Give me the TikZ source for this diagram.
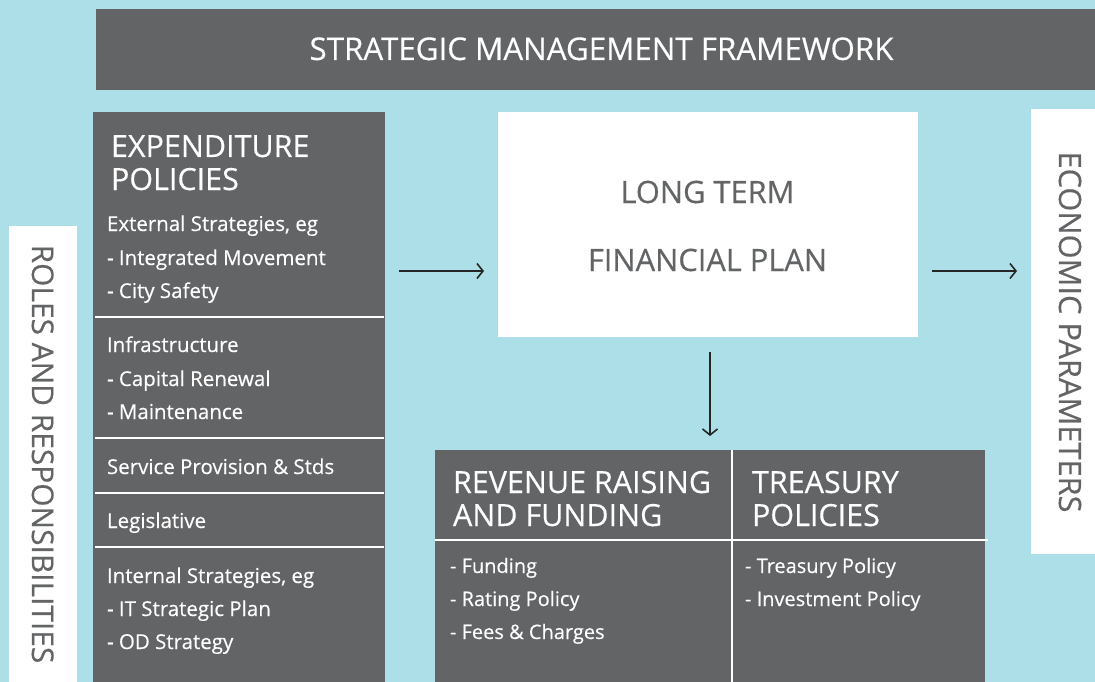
\documentclass[tikz,border=0pt]{standalone}
\usepackage{fontspec}
\setmainfont{Open Sans}[FakeBold=0.35]
\usetikzlibrary{arrows.meta}
\definecolor{bg}{RGB}{172, 223, 231}
\definecolor{panel}{RGB}{99, 100, 102}

\begin{document}
\begin{tikzpicture}[
  every node/.style={inner sep=0pt, outer sep=0pt},
  darkbox/.style={rectangle, fill=panel, anchor=north west},
  whitebox/.style={rectangle, fill=white, anchor=north west},
  heading/.style={anchor=base west, text=white, font=\fontsize{30.5}{32}\selectfont},
  item/.style={anchor=base west, text=white, font=\fontsize{20.5}{22}\selectfont},
  greytext/.style={anchor=base, text=panel, font=\fontsize{30.8}{32}\selectfont},
  rule/.style={white, line width=2pt},
  flow/.style={line width=1.6pt, color=black!85, -{Straight Barb[length=6pt, width=15pt, line width=1.6pt]}}
]
% canvas
\useasboundingbox (0pt, 0pt) rectangle (1095pt, -682pt);
\fill [bg] (0pt, 0pt) rectangle (1095pt, -682pt);

% boxes
\node (banner) [darkbox, minimum width=999pt, minimum height=81.5pt] at (96pt, -9pt) {};
\node (expend) [darkbox, minimum width=292pt, minimum height=570pt] at (93pt, -112pt) {};
\node (roles) [whitebox, minimum width=68pt, minimum height=456pt] at (9pt, -226pt) {};
\node (ltfp) [whitebox, minimum width=420pt, minimum height=225pt] at (498pt, -112pt) {};
\node (econ) [whitebox, minimum width=64pt, minimum height=445pt] at (1031pt, -109pt) {};
\node (revenue) [darkbox, minimum width=550pt, minimum height=232pt] at (435pt, -450pt) {};

% banner title
\node (bannertext) [anchor=base, text=white, font=\fontsize{31.3}{32}\selectfont] at (601.5pt, -60pt) {STRATEGIC MANAGEMENT FRAMEWORK};

% expenditure column
\node (exp1) [heading] at (111pt, -157pt) {EXPENDITURE};
\node (exp2) [heading] at (111pt, -190pt) {POLICIES};
\node (e1) [item] at (107pt, -231pt) {External Strategies, eg};
\node (e2) [item] at (107pt, -265pt) {- Integrated Movement};
\node (e3) [item] at (107pt, -298pt) {- City Safety};
\node (e4) [item] at (107pt, -352pt) {Infrastructure};
\node (e5) [item] at (107pt, -386pt) {- Capital Renewal};
\node (e6) [item] at (107pt, -419pt) {- Maintenance};
\node (e7) [item] at (107pt, -474pt) {Service Provision \& Stds};
\node (e8) [item] at (107pt, -528pt) {Legislative};
\node (e9) [item] at (107pt, -583pt) {Internal Strategies, eg};
\node (e10) [item] at (107pt, -616pt) {- IT Strategic Plan};
\node (e11) [item] at (107pt, -649pt) {- OD Strategy};
\foreach \y in {317, 438, 493, 547}
  \draw [rule] (95pt, -\y pt) -- (384pt, -\y pt);

% side labels
\node (rolestext) [greytext, rotate=-90, font=\fontsize{29.9}{32}\selectfont] at (32pt, -454pt) {ROLES AND RESPONSIBILITIES};
\node (econtext) [greytext, rotate=-90] at (1059pt, -332pt) {ECONOMIC PARAMETERS};

% long term plan
\node (lterm) [greytext] at (707.5pt, -203pt) {LONG TERM};
\node (fplan) [greytext] at (707.5pt, -271pt) {FINANCIAL PLAN};

% revenue and treasury
\draw [rule] (435pt, -540pt) -- (988pt, -540pt);
\draw [rule] (732pt, -450pt) -- (732pt, -682pt);
\node (rev1) [heading] at (453pt, -493pt) {REVENUE RAISING};
\node (rev2) [heading] at (453pt, -526pt) {AND FUNDING};
\node (tre1) [heading] at (752pt, -493pt) {TREASURY};
\node (tre2) [heading] at (752pt, -526pt) {POLICIES};
\node (r1) [item, font=\fontsize{20}{22}\selectfont] at (450pt, -573pt) {- Funding};
\node (r2) [item, font=\fontsize{20}{22}\selectfont] at (450pt, -606pt) {- Rating Policy};
\node (r3) [item, font=\fontsize{20}{22}\selectfont] at (450pt, -639pt) {- Fees \& Charges};
\node (t1) [item, font=\fontsize{20}{22}\selectfont] at (745pt, -573pt) {- Treasury Policy};
\node (t2) [item, font=\fontsize{20}{22}\selectfont] at (745pt, -606pt) {- Investment Policy};

% arrows
\draw [flow, shorten <=14pt, shorten >=14pt] (expend.east |- fplan.base) -- (ltfp.west |- fplan.base);
\draw [flow, shorten <=14pt, shorten >=14pt] (ltfp.east |- fplan.base) -- (econ.west |- fplan.base);
\draw [flow, shorten <=15pt, shorten >=14pt] ([xshift=2pt]ltfp.south) -- ([xshift=2pt]ltfp.south |- revenue.north);
\end{tikzpicture}
\end{document}
